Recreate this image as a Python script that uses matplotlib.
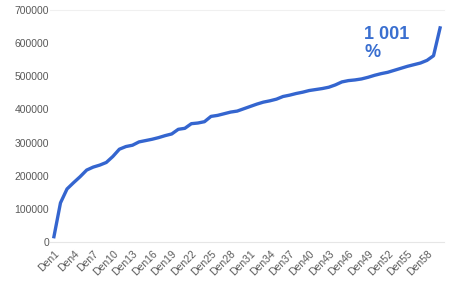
import matplotlib.pyplot as plt

# dny Den1..Den60 a kumulativni hodnoty
dny = ["Den" + str(i) for i in range(1, 61)]
hodnoty = [16000, 118000, 160000, 179000, 197000, 217000, 226000, 232000, 240000, 258000,
           280000, 288000, 292000, 302000, 306000, 310000, 315000, 321000, 326000, 340000,
           343000, 357000, 359000, 363000, 379000, 382000, 387000, 392000, 395000, 402000,
           409000, 416000, 422000, 426000, 431000, 439000, 443000, 448000, 452000, 457000,
           460000, 463000, 467000, 474000, 483000, 487000, 489000, 492000, 497000, 503000,
           508000, 512000, 518000, 524000, 530000, 535000, 540000, 548000, 562000, 646000]
popisek = "1 001\n%"

plt.rcParams['font.family'] = ['Liberation Sans', 'DejaVu Sans']

fig = plt.figure(figsize=(4.67, 2.84), dpi=100)
ax = fig.add_axes([50/467, 1-242/284, 394/467, 232/284])

x = list(range(1, len(hodnoty) + 1))
ax.plot(x, hodnoty, color='#3465cf', linewidth=2.4, solid_joinstyle='round')

ax.set_xlim(0.4, 60.6)
ax.set_ylim(0, 700000)
ax.set_yticks(range(0, 700001, 100000))
ax.set_yticklabels([str(v) for v in range(0, 700001, 100000)])
ax.set_xticks(x[::3])
ax.set_xticklabels(dny[::3], rotation=45, ha='right', rotation_mode='anchor')

ax.tick_params(axis='both', length=0, labelsize=7.5, labelcolor='#595959')
ax.tick_params(axis='y', pad=0.5)
ax.tick_params(axis='x', pad=5)

for s in ['left', 'right']:
    ax.spines[s].set_visible(False)
ax.spines['bottom'].set_color('#e6e6e6')
ax.spines['top'].set_color('#f0f0f0')

ax.text(0.797, 0.93, popisek, transform=ax.transAxes, ha='left', va='top',
        fontsize=13, fontweight='bold', color='#3a6fd0', linespacing=1.05)

fig.savefig('out.png', dpi=100)
